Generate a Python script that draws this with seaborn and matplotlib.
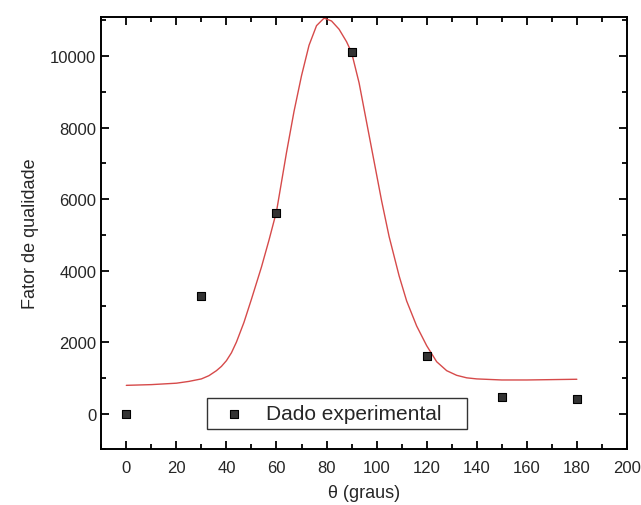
import numpy as np
import pandas as pd
import matplotlib
matplotlib.use("Agg")
import matplotlib.pyplot as plt
from matplotlib.ticker import MultipleLocator
import seaborn as sns

# experimental points
theta_exp = [0, 30, 60, 90, 120, 150, 180]
q_exp = [0, 3300, 5600, 10100, 1600, 450, 400]

# fitted curve
theta_fit = [0, 10, 20, 25, 30, 33, 36, 38, 40, 42, 44, 47, 50, 54, 57, 60, 64, 67, 70,
             73, 76, 79, 82, 85, 88, 90, 93, 96, 99, 102, 105, 109, 112, 116, 120, 124,
             128, 132, 136, 140, 150, 160, 170, 180]
q_fit = [790, 810, 850, 900, 970, 1060, 1200, 1320, 1480, 1700, 2000, 2550, 3200, 4100,
         4850, 5650, 7300, 8450, 9450, 10300, 10850, 11060, 10980, 10750, 10400, 10100,
         9250, 8150, 7050, 5950, 4950, 3850, 3150, 2450, 1900, 1450, 1200, 1070, 1000,
         970, 940, 940, 950, 960]

sns.set_style("ticks")
plt.rcParams['font.family'] = ['Liberation Sans', 'DejaVu Sans']

fig = plt.figure(figsize=(6.41, 5.06), dpi=100)
ax = fig.add_axes([0.158, 0.11, 0.82, 0.855])

df_fit = pd.DataFrame({"theta": theta_fit, "q": q_fit})
df_exp = pd.DataFrame({"theta": theta_exp, "q": q_exp})

sns.lineplot(data=df_fit, x="theta", y="q", ax=ax, color="#d64a4a", lw=1.0)
sns.scatterplot(data=df_exp, x="theta", y="q", ax=ax, marker="s", s=36,
                color="#333333", edgecolor="black", linewidth=0.8,
                label="Dado experimental", zorder=3)

ax.set_xlim(-10, 200)
ax.set_ylim(-1000, 11100)
ax.xaxis.set_major_locator(MultipleLocator(20))
ax.xaxis.set_minor_locator(MultipleLocator(10))
ax.yaxis.set_major_locator(MultipleLocator(2000))
ax.yaxis.set_minor_locator(MultipleLocator(1000))
ax.tick_params(which="both", direction="in", top=True, right=True, width=1.3,
               labelsize=12, color="black")
ax.tick_params(which="major", length=6)
ax.tick_params(which="minor", length=3.5)
ax.tick_params(axis="x", pad=8)
for sp in ax.spines.values():
    sp.set_linewidth(1.4)
    sp.set_color("black")

ax.set_xlabel("θ (graus)", fontsize=13, labelpad=6)
ax.set_ylabel("Fator de qualidade", fontsize=13, labelpad=8)

leg = ax.legend(loc="lower left", bbox_to_anchor=(0.2015, 0.046, 0.494, 0.08),
                mode="expand", fontsize=15, frameon=True, fancybox=False,
                handlelength=2.0, handletextpad=0.5, borderpad=0.3,
                borderaxespad=0)
leg.get_frame().set_edgecolor("black")
leg.get_frame().set_linewidth(1.0)

plt.savefig("out.png", dpi=100)
